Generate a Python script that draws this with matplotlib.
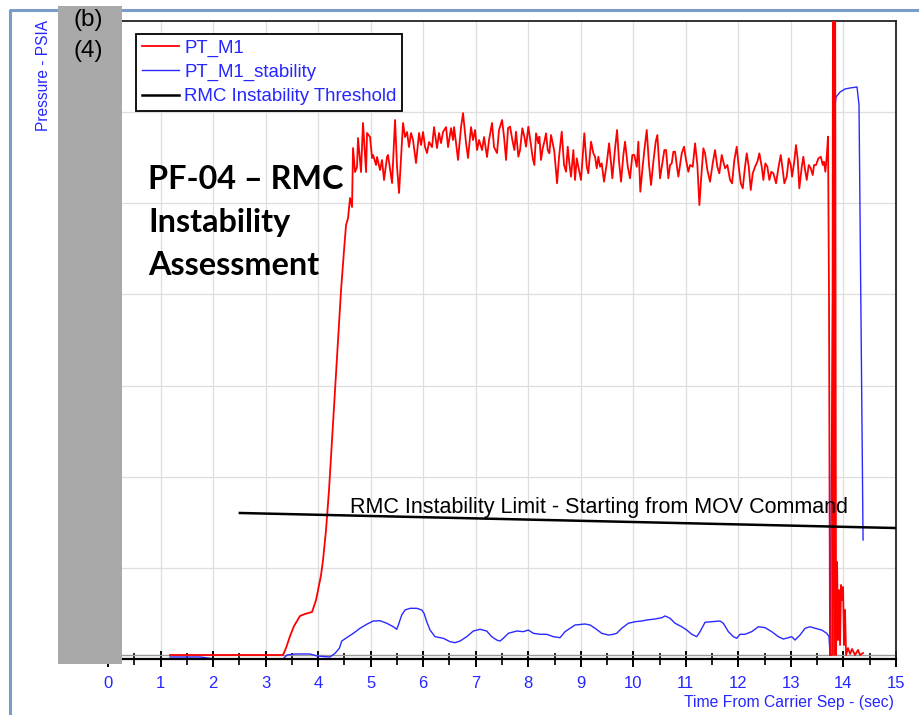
import matplotlib
matplotlib.use("Agg")
import matplotlib.pyplot as plt
from matplotlib import font_manager
from matplotlib.patches import Rectangle
from matplotlib.lines import Line2D

# ---------------- data ----------------
red_t = [1.180, 3.331, 3.389, 3.465, 3.541, 3.655, 3.750, 3.884, 3.960, 3.998, 4.055, 4.093,
         4.150, 4.207, 4.264, 4.321, 4.379, 4.436, 4.493, 4.531, 4.569,
         4.607, 4.645, 4.664, 4.702, 4.740, 4.759, 4.816, 4.854, 4.912, 4.931, 4.988, 5.026, 5.045,
         5.102, 5.121, 5.178, 5.216, 5.254, 5.311, 5.330, 5.407, 5.464, 5.502, 5.540, 5.616, 5.654,
         5.692, 5.730, 5.768, 5.806, 5.863, 5.921, 5.959, 5.997, 6.035, 6.073, 6.111, 6.168, 6.206,
         6.263, 6.301, 6.339, 6.377, 6.435, 6.473, 6.530, 6.568, 6.587, 6.625, 6.663, 6.720, 6.758,
         6.815, 6.853, 6.910, 6.949, 6.987, 7.025, 7.063, 7.120, 7.158, 7.215, 7.253, 7.310, 7.348,
         7.405, 7.443, 7.501, 7.539, 7.577, 7.615,
         7.653, 7.697, 7.735, 7.767, 7.811, 7.843, 7.887, 7.925, 7.957, 8.001, 8.047, 8.085, 8.116,
         8.148, 8.192, 8.211, 8.243, 8.275, 8.306, 8.338, 8.370, 8.401, 8.433, 8.466, 8.496, 8.548,
         8.586, 8.637, 8.681, 8.719, 8.751, 8.782, 8.814, 8.858, 8.890, 8.923, 8.953, 9.004, 9.067,
         9.113, 9.143, 9.195, 9.239, 9.271, 9.303, 9.334, 9.366, 9.398, 9.442, 9.494, 9.538, 9.576,
         9.600, 9.652, 9.690, 9.728, 9.766, 9.810, 9.842, 9.894, 9.937, 9.981, 10.019, 10.065, 10.095,
         10.133, 10.171, 10.210, 10.255, 10.299, 10.337, 10.381, 10.426, 10.457, 10.508, 10.541,
         10.590, 10.623, 10.666, 10.699, 10.731, 10.762,
         10.794, 10.826, 10.857, 10.921, 10.965, 11.003, 11.047, 11.080, 11.131, 11.175, 11.219,
         11.257, 11.289, 11.333, 11.365, 11.409, 11.460, 11.511, 11.555, 11.599, 11.637, 11.683,
         11.713, 11.746, 11.790, 11.841, 11.879, 11.923, 11.968, 12.006, 12.045, 12.083, 12.126,
         12.159, 12.197, 12.235, 12.273, 12.317, 12.361, 12.399, 12.444, 12.475, 12.513, 12.551,
         12.589, 12.627, 12.665, 12.717, 12.760, 12.806, 12.844, 12.875, 12.920, 12.958, 12.997,
         13.021, 13.059, 13.097, 13.130, 13.160, 13.206, 13.236, 13.269, 13.301, 13.339, 13.377,
         13.415, 13.440, 13.478, 13.522, 13.568, 13.606, 13.630, 13.655, 13.681, 13.706,
         13.725, 13.744, 13.783, 13.802, 13.821, 13.840, 13.859, 13.878, 13.897, 13.916, 13.935,
         13.954, 13.973, 13.992, 14.011, 14.030, 14.049, 14.087, 14.125, 14.163, 14.220, 14.277,
         14.315, 14.373]
red_v = [4.4, 4.4, 12.1, 25.2, 36.2, 47.2, 49.4, 51.6, 64.7, 75.7, 92.1, 108.6,
         141.5, 185.4, 240.2, 295.1, 350.0, 404.8, 448.7, 476.1, 483.8,
         505.8, 495.9, 560.6, 534.3, 539.8, 571.6, 534.3, 588.1, 534.3, 577.1, 572.7, 549.7, 553.0,
         542.0, 550.8, 536.5, 547.5, 525.5, 550.8, 553.0, 522.2, 591.4, 539.8, 511.3, 588.1, 572.7,
         578.2, 561.7, 577.1, 569.4, 544.2, 577.1, 563.9, 578.2, 561.7, 555.1, 567.2, 561.7, 583.6,
         560.6, 577.1, 566.1, 578.2, 583.6, 561.7, 582.5, 569.4, 583.6, 566.1, 547.5, 583.6, 599.0,
         566.1, 549.7, 583.6, 569.4, 580.4, 558.4, 569.4, 558.4, 572.7, 550.8, 569.4, 588.1, 561.7,
         555.1, 580.4, 591.4, 572.7, 547.5, 582.5,
         584.1, 569.4, 558.4, 578.6, 551.1, 558.4, 582.3, 573.1, 562.1, 584.0, 565.8, 549.3, 542.0,
         576.8, 565.8, 573.1, 547.5, 560.3, 567.6, 576.8, 558.4, 554.8, 574.9, 565.8, 556.6, 521.9,
         551.1, 578.6, 542.0, 534.6, 562.1, 543.8, 529.2, 558.4, 525.6, 549.3, 540.1, 525.6, 576.8,
         540.1, 532.9, 567.6, 554.8, 551.1, 538.4, 551.1, 540.1, 543.8, 523.7, 543.8, 565.8, 543.8,
         527.4, 560.3, 580.4, 545.6, 523.7, 553.0, 567.6, 540.1, 527.4, 553.0, 553.0, 540.1, 567.6,
         512.7, 536.5, 558.4, 580.4, 542.0, 520.0, 545.6, 567.6, 574.9, 527.4, 540.1,
         558.4, 558.4, 527.4, 542.0, 543.8, 556.6,
         556.6, 542.0, 529.2, 554.8, 562.1, 547.5, 534.6, 542.0, 540.1, 565.8, 542.0,
         498.1, 525.6, 560.3, 554.8, 536.5, 523.7, 543.8, 558.4, 540.1, 532.9, 553.0,
         545.6, 538.4, 542.0, 525.6, 521.9, 547.5, 562.1, 540.1, 521.9, 516.4, 540.1,
         554.8, 540.1, 514.6, 532.9, 540.1, 545.6, 554.8, 540.1, 525.6, 543.8, 540.1,
         525.6, 534.6, 532.9, 521.9, 538.4, 553.0, 536.5, 521.9, 529.2, 549.3, 542.0,
         529.2, 543.8, 563.9, 547.5, 516.4, 540.1, 551.1, 536.5, 525.6, 542.0, 538.4,
         531.0, 542.0, 542.0, 549.3, 551.1, 542.0, 545.6, 534.6, 551.1, 573.1,
         394.0, 4.4, 4.4, 800.0, 4.4, 800.0, 4.4, 106.4, 20.8, 75.7, 15.4,
         81.2, 64.7, 79.0, 15.4, 53.8, 4.4, 12.1, 5.5, 11.0, 4.4, 9.9,
         4.4, 6.6]

blue_t = [1.180, 1.751, 2.037, 3.331, 3.408, 3.560, 3.845, 3.979, 4.226,
          4.321, 4.403, 4.449, 4.544, 4.670, 4.797, 4.925, 5.050, 5.178, 5.306, 5.431, 5.496,
          5.527, 5.591, 5.654, 5.749, 5.877, 5.972, 6.016, 6.067, 6.130, 6.225, 6.383, 6.511,
          6.606, 6.701, 6.829, 6.954, 7.082, 7.209, 7.304, 7.400, 7.462, 7.525, 7.621, 7.780,
          7.906, 8.001, 8.096, 8.224, 8.351, 8.477, 8.605,
          8.700, 8.890, 9.081, 9.176, 9.271, 9.398, 9.524, 9.619, 9.684, 9.779, 9.905, 10.032,
          10.160, 10.255, 10.413, 10.541, 10.603, 10.699, 10.794, 10.921, 11.016, 11.112, 11.207,
          11.270, 11.365, 11.492, 11.650, 11.713, 11.809, 11.904, 11.968, 12.031, 12.126, 12.254,
          12.380, 12.507, 12.634, 12.760, 12.855, 12.951, 13.015, 13.078, 13.173, 13.269, 13.364,
          13.459, 13.586, 13.681, 13.725,
          13.744, 13.821, 13.859, 13.935, 14.030, 14.125, 14.258, 14.296, 14.373]
blue_v = [2.2, 2.2, 0.0, 0.0, 4.4, 5.5, 5.5, 3.3, 2.2,
          6.3, 11.7, 19.7, 23.4, 28.2, 33.7, 38.1, 41.7, 42.0, 39.2, 35.4, 32.6,
          37.3, 48.3, 53.8, 55.6, 55.6, 53.8, 50.1, 40.9, 31.8, 24.5, 22.7, 19.0,
          17.9, 19.7, 24.5, 30.7, 32.6, 30.7, 24.5, 20.8, 19.7, 22.7, 28.2, 30.7,
          30.0, 31.8, 28.2, 27.1, 27.1, 24.5, 23.4,
          30.0, 37.3, 38.4, 37.3, 33.7, 28.2, 26.3, 27.1, 28.2, 33.7, 39.2, 40.9,
          41.7, 42.8, 43.9, 45.3, 47.2, 44.7, 39.2, 35.4, 31.8, 27.1, 24.5,
          30.0, 40.3, 40.9, 41.7, 39.2, 30.0, 24.5, 22.7, 27.1, 27.1, 30.0,
          35.4, 34.4, 30.0, 24.5, 21.9, 23.4, 24.5, 20.8, 26.3, 33.7, 35.4,
          33.7, 31.8, 28.2, 24.5,
          4.4, 596.9, 616.6, 622.1, 625.4, 626.5, 627.6, 607.9, 130.6]

threshold_t = [2.51, 15.0]
threshold_v = [160.2, 143.7]

x_ticks = list(range(0, 16))
x_minor = [i + 0.5 for i in range(0, 15)]
y_grid = [100, 200, 300, 400, 500, 600]

series_labels = ["PT_M1", "PT_M1_stability", "RMC Instability Threshold"]
limit_label = "RMC Instability Limit - Starting from MOV Command"
title_lines = ["PF-04 \u2013 RMC", "Instability", "Assessment"]

# ---------------- fonts ----------------
names = {f.name for f in font_manager.fontManager.ttflist}
SANS = "Liberation Sans"
BOLD = "Lato" if "Lato" in names else "DejaVu Sans"
BLUE = "#2626ff"

W, H = 919, 715
fig = plt.figure(figsize=(W / 100, H / 100), dpi=100)
fig.patch.set_facecolor("white")

def fx(px):
    return px / W

def fy(py):
    return 1 - py / H

ax = fig.add_axes([fx(60), fy(659), fx(896) - fx(60), fy(21) - fy(659)])
ax.set_xlim(-0.914, 15.0)
ax.set_ylim(0, 700)

ax.set_xticks(x_ticks)
ax.set_xticks(x_minor, minor=True)
ax.set_yticks(y_grid)
ax.set_yticklabels([])
ax.tick_params(axis="y", length=0)
ax.tick_params(axis="x", which="major", direction="inout", length=12, width=1.4,
               color="black", labelcolor=BLUE, labelsize=12, pad=6)
ax.tick_params(axis="x", which="minor", direction="inout", length=8, width=1.2, color="black")
for lab in ax.get_xticklabels():
    lab.set_fontfamily(SANS)
ax.grid(True, which="major", color="#dedede", lw=0.9)
ax.set_axisbelow(True)

for s in ["top", "right"]:
    ax.spines[s].set_linewidth(1.3)
    ax.spines[s].set_color("#222222")
ax.spines["bottom"].set_linewidth(1.6)
ax.spines["left"].set_visible(False)
ax.axhline(4.4, color="#9a9a9a", lw=1.0, zorder=1.5)

l_red, = ax.plot(red_t, red_v, color="#ff0000", lw=1.3, label=series_labels[0], zorder=3)
l_blue, = ax.plot(blue_t, blue_v, color="#2a2aff", lw=1.0, label=series_labels[1], zorder=2.5)
l_thr, = ax.plot(threshold_t, threshold_v, color="black", lw=1.8, label=series_labels[2], zorder=4)

ax.text(4.607, 166, limit_label, fontsize=15.5, family=SANS, color="black",
        ha="left", va="center", zorder=5)

leg = ax.legend(handles=[l_red, l_blue, l_thr], loc="upper left",
                bbox_to_anchor=(fx(136), fy(34)), bbox_transform=fig.transFigure,
                frameon=True, fancybox=False, edgecolor="black", framealpha=1,
                prop={"family": SANS, "size": 13.4}, labelcolor=BLUE,
                handlelength=2.0, handletextpad=0.3, borderpad=0.3,
                labelspacing=0.38, borderaxespad=0)
leg.get_frame().set_linewidth(1.3)
leg.set_zorder(6)

# title block
for txt, base in zip(title_lines, [189, 232, 275]):
    fig.text(fx(148), fy(base), txt, fontsize=23.3, family=BOLD, fontweight="bold",
             color="black", ha="left", va="baseline", zorder=7)

# outer frame of the screenshot (under the grey box)
fig.lines.append(Line2D([fx(10), fx(10), fx(919)], [fy(715), fy(10), fy(10)],
                        transform=fig.transFigure, color="#7b9cc9", lw=2.2, zorder=9))

# grey box at the left of the plot
fig.patches.append(Rectangle((fx(58), fy(664)), fx(122) - fx(58), fy(6) - fy(664),
                             transform=fig.transFigure, facecolor="#a9a9a9",
                             edgecolor="none", zorder=10))
fig.text(fx(88), fy(20), "(b)", fontsize=17.5, family=SANS, color="black",
         ha="center", va="center", zorder=11)
fig.text(fx(88), fy(51), "(4)", fontsize=17.5, family=SANS, color="black",
         ha="center", va="center", zorder=11)

fig.text(fx(44), fy(20), "Pressure - PSIA", rotation=90, fontsize=11.2, family=SANS,
         color=BLUE, ha="center", va="top")
fig.text(fx(894), fy(702), "Time From Carrier Sep - (sec)", fontsize=11.3, family=SANS,
         color=BLUE, ha="right", va="center")

fig.savefig("out.png", dpi=100, facecolor="white")
